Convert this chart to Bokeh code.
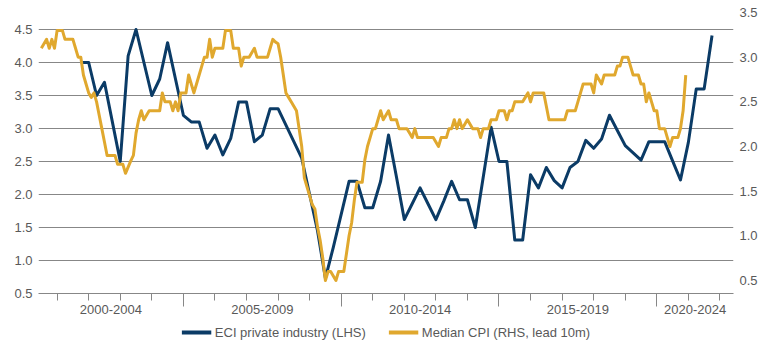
import pandas as pd
from bokeh.plotting import figure
from bokeh.layouts import column
from bokeh.models import (LinearAxis, Range1d, FixedTicker, Grid, Legend, LegendItem,
                          NumeralTickFormatter)
from bokeh.embed import file_html
from bokeh.resources import INLINE

# ---------------- data ----------------
# ECI private industry, y/y %, quarterly (LHS)
eci_start = "2001-10"
eci_values = [
    4.0,
    4.0, 3.5, 3.7, 3.1,
    2.5, 4.1, 4.5, 4.0,
    3.5, 3.75, 4.3, 3.75,
    3.2, 3.1, 3.1, 2.7,
    2.9, 2.6, 2.85, 3.4,
    3.4, 2.8, 2.9, 3.3,
    3.3, 3.05, 2.8, 2.55,
    2.0, 1.45, 0.73, 1.2,
    1.7, 2.2, 2.2, 1.8,
    1.8, 2.2, 2.9, 2.27,
    1.62, 1.86, 2.1, 1.86,
    1.62, 1.9, 2.2, 1.92,
    1.92, 1.5, 2.26, 3.02,
    2.5, 2.5, 1.31, 1.31,
    2.3, 2.1, 2.41, 2.21,
    2.1, 2.41, 2.5, 2.82,
    2.7, 2.84, 3.2, 2.97,
    2.74, 2.63, 2.52, 2.8,
    2.8, 2.8, 2.51, 2.22,
    2.79, 3.6, 3.6, 4.41,
]

# Median CPI, y/y %, monthly, lead 10m (RHS)
cpi_start = "2000-07"
cpi_values = [
    3.1, 3.15, 3.2, 3.1, 3.2, 3.1,
    3.3, 3.3, 3.3, 3.2, 3.2, 3.2, 3.2, 3.1, 3.0, 3.0, 2.8, 2.7,
    2.6, 2.55, 2.6, 2.5, 2.35, 2.2, 2.05, 1.9, 1.9, 1.9, 1.9, 1.8,
    1.8, 1.8, 1.7, 1.77, 1.84, 1.9, 2.15, 2.3, 2.4, 2.3, 2.35, 2.4,
    2.4, 2.4, 2.4, 2.4, 2.6, 2.5, 2.5, 2.5, 2.4, 2.5, 2.4, 2.6,
    2.6, 2.6, 2.8, 2.7, 2.6, 2.7, 2.8, 2.9, 3.0, 3.0, 3.2, 3.0,
    3.1, 3.1, 3.1, 3.1, 3.3, 3.3, 3.3, 3.1, 3.1, 3.1, 2.9, 3.0,
    3.0, 3.0, 3.05, 3.1, 3.0, 3.0, 3.0, 3.0, 3.0, 3.1, 3.2, 3.17,
    3.15, 3.0, 2.8, 2.6, 2.55, 2.5, 2.45, 2.4, 2.2, 2.0, 1.65, 1.55,
    1.45, 1.35, 1.3, 1.1, 0.95, 0.75, 0.5, 0.6, 0.6, 0.55, 0.5, 0.6,
    0.6, 0.6, 0.8, 1.0, 1.15, 1.4, 1.6, 1.6, 1.6, 1.85, 2.0, 2.1,
    2.2, 2.2, 2.3, 2.4, 2.3, 2.35, 2.4, 2.3, 2.3, 2.3, 2.2, 2.2,
    2.2, 2.2, 2.15, 2.1, 2.2, 2.1, 2.1, 2.1, 2.1, 2.1, 2.1, 2.1,
    2.05, 2.0, 2.1, 2.1, 2.1, 2.2, 2.2, 2.3, 2.2, 2.3, 2.2, 2.25,
    2.3, 2.25, 2.2, 2.2, 2.2, 2.1, 2.2, 2.2, 2.2, 2.3, 2.3, 2.3,
    2.4, 2.4, 2.4, 2.3, 2.4, 2.4, 2.5, 2.5, 2.5, 2.5, 2.55, 2.6,
    2.5, 2.6, 2.6, 2.6, 2.6, 2.6, 2.45, 2.3, 2.3, 2.3, 2.3, 2.3,
    2.3, 2.3, 2.4, 2.4, 2.4, 2.4, 2.5, 2.6, 2.7, 2.7, 2.7, 2.7,
    2.6, 2.8, 2.75, 2.7, 2.8, 2.8, 2.8, 2.8, 2.8, 2.9, 2.9, 3.0,
    3.0, 3.0, 2.9, 2.8, 2.8, 2.8, 2.7, 2.7, 2.5, 2.6, 2.5, 2.4,
    2.4, 2.2, 2.2, 2.2, 2.1, 2.0, 2.1, 2.1, 2.1, 2.2, 2.4, 2.8,
]

lhs_ticks = [0.5, 1.0, 1.5, 2.0, 2.5, 3.0, 3.5, 4.0, 4.5]
rhs_ticks = [0.5, 1.0, 1.5, 2.0, 2.5, 3.0, 3.5]
group_labels = ["2000-2004", "2005-2009", "2010-2014", "2015-2019", "2020-2024"]
group_starts = [2000, 2005, 2010, 2015, 2020]
year_ticks = list(range(2001, 2023))

series_names = ["ECI private industry (LHS)", "Median CPI (RHS, lead 10m)"]

# ---------------- styling ----------------
NAVY = "#0b3b66"
GOLD = "#e0a82e"
GRID = "#878787"
TEXT = "#595959"
FONT = "Liberation Sans"
FS = "13px"

X_START, X_END = 2000.41, 2022.43
LHS_RANGE = (0.5, 4.818)
RHS_RANGE = (0.3544, 3.545)


def decimal_year(dates):
    return list(dates.year + (dates.month - 1) / 12.0)


eci_x = decimal_year(pd.date_range(eci_start, periods=len(eci_values), freq="3MS"))
cpi_x = decimal_year(pd.date_range(cpi_start, periods=len(cpi_values), freq="MS"))

p = figure(width=770, height=319, output_backend="svg", toolbar_location=None,
           x_range=Range1d(X_START, X_END), y_range=Range1d(*LHS_RANGE),
           x_axis_type=None, y_axis_type=None,
           min_border_left=38, min_border_right=37, min_border_top=8, min_border_bottom=26)
p.outline_line_color = None
p.background_fill_color = "white"
p.border_fill_color = "white"
p.extra_y_ranges = {"rhs": Range1d(*RHS_RANGE)}

lhs_ticker = FixedTicker(ticks=lhs_ticks)
p.add_layout(Grid(dimension=1, ticker=lhs_ticker, grid_line_color=GRID, grid_line_width=1))


def style_axis(ax):
    ax.major_label_text_font = FONT
    ax.major_label_text_font_size = FS
    ax.major_label_text_color = TEXT


left = LinearAxis(ticker=lhs_ticker, formatter=NumeralTickFormatter(format="0.0"),
                  major_tick_out=0, major_tick_in=0, minor_tick_out=0, minor_tick_in=0,
                  axis_line_color=None, major_label_standoff=6)
style_axis(left)
p.add_layout(left, "left")

right = LinearAxis(y_range_name="rhs", ticker=FixedTicker(ticks=rhs_ticks),
                   formatter=NumeralTickFormatter(format="0.0"),
                   major_tick_out=0, major_tick_in=0, minor_tick_out=0, minor_tick_in=0,
                   axis_line_color=None, major_label_standoff=6)
style_axis(right)
p.add_layout(right, "right")

# tick axis: long ticks between the year groups, short ticks at every year
sep = LinearAxis(ticker=FixedTicker(ticks=group_starts[1:], minor_ticks=year_ticks),
                 major_tick_out=13, major_tick_in=0, minor_tick_out=7, minor_tick_in=0,
                 major_tick_line_color=GRID, minor_tick_line_color=GRID,
                 axis_line_color=GRID, major_label_standoff=0,
                 major_label_overrides={g: "" for g in group_starts[1:]},
                 major_label_text_font_size="0px")
p.add_layout(sep, "below")

# label axis: group labels centred in each (visible part of the) group
centers = []
for gs in group_starts:
    a = max(gs, X_START)
    b = min(gs + 5, X_END)
    centers.append((a + b) / 2.0)
overrides = {c: lab for c, lab in zip(centers, group_labels)}

labels_axis = LinearAxis(ticker=FixedTicker(ticks=centers, minor_ticks=[]),
                         major_tick_out=0, major_tick_in=0, minor_tick_out=0, minor_tick_in=0,
                         axis_line_color=None, major_label_standoff=-2,
                         major_label_overrides=overrides)
style_axis(labels_axis)
p.add_layout(labels_axis, "below")

p.line(eci_x, eci_values, line_color=NAVY, line_width=3, line_join="round")
p.line(cpi_x, cpi_values, y_range_name="rhs", line_color=GOLD, line_width=3,
       line_join="round")

# legend strip underneath the chart (key lines hold no visible data)
lg = figure(width=770, height=25, output_backend="svg", toolbar_location=None,
            x_range=Range1d(0, 1), y_range=Range1d(0, 1),
            x_axis_type=None, y_axis_type=None, min_border=0)
lg.outline_line_color = None
lg.background_fill_color = "white"
lg.border_fill_color = "white"
nan = float("nan")
k_eci = lg.line([nan], [nan], line_color=NAVY, line_width=4)
k_cpi = lg.line([nan], [nan], line_color=GOLD, line_width=4)

legend = Legend(items=[LegendItem(label=series_names[0], renderers=[k_eci], index=0),
                       LegendItem(label=series_names[1], renderers=[k_cpi], index=0)],
                orientation="horizontal", location="center",
                border_line_color=None, background_fill_alpha=0,
                glyph_width=30, glyph_height=15, label_height=15,
                padding=4, margin=0, spacing=22, label_standoff=4,
                label_text_font=FONT, label_text_font_size=FS, label_text_color=TEXT)
lg.add_layout(legend)

layout = column(p, lg, spacing=0)
open("out.html", "w").write(file_html(layout, INLINE))
